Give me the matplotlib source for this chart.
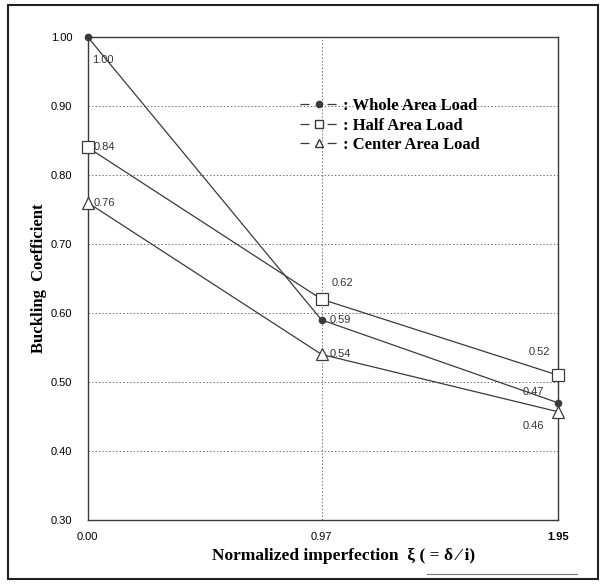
import numpy as np
import matplotlib
matplotlib.use('Agg')
import matplotlib.pyplot as plt
from matplotlib.lines import Line2D

# data
x_vals = [0.00, 0.97, 1.95]
x_ticklabels = ['0.00', '0.97', '1.95']
whole = [1.00, 0.59, 0.47]
half = [0.84, 0.62, 0.51]
center = [0.76, 0.54, 0.457]
whole_lbl = ['1.00', '0.59', '0.47']
half_lbl = ['0.84', '0.62', '0.52']
center_lbl = ['0.76', '0.54', '0.46']
y_ticks = [0.30, 0.40, 0.50, 0.60, 0.70, 0.80, 0.90, 1.00]
series_names = [': Whole Area Load', ': Half Area Load', ': Center Area Load']

serif = 'Liberation Serif'
sans = 'Liberation Sans'
lc = '#3a3a3a'
plt.rcParams['lines.scale_dashes'] = False

fig = plt.figure(figsize=(6.01, 5.84), dpi=100, facecolor='white')
ax = fig.add_axes([0.146, 0.1096, 0.782, 0.827])

ax.plot(x_vals, whole, '-', color=lc, lw=0.9, marker='o', ms=4.5,
        mfc=lc, mec=lc, clip_on=False, zorder=3)
ax.plot(x_vals, half, '-', color=lc, lw=0.9, marker='s', ms=8,
        mfc='white', mec=lc, mew=0.9, clip_on=False, zorder=3)
ax.plot(x_vals, center, '-', color=lc, lw=0.9, marker='^', ms=8,
        mfc='white', mec=lc, mew=0.9, clip_on=False, zorder=3)

ax.set_xlim(0, 1.95)
ax.set_ylim(0.30, 1.00)
ax.set_xticks(x_vals)
ax.set_xticklabels(x_ticklabels, fontfamily=sans, fontsize=8)
ax.set_yticks(y_ticks)
ax.set_yticklabels(['%.2f' % v for v in y_ticks], fontfamily=sans, fontsize=8)
ax.tick_params(axis='y', length=0, pad=11)
ax.tick_params(axis='x', length=0, pad=9)
ax.get_xticklabels()[2].set_fontweight('bold')

ax.grid(True, linestyle=(0, (1, 1.5)), color='#555555', lw=0.6)
for s in ax.spines.values():
    s.set_color(lc)
    s.set_linewidth(1.0)

# value labels: offsets in pixels from the point, and alignment
off = dict(textcoords='offset pixels', fontsize=8, fontfamily=sans,
           color='#333333', va='center')
w_off = [(4, -23, 'left'), (8, 0, 'left'), (-14, 11, 'right')]
h_off = [(6, 0, 'left'), (10, 16, 'left'), (-8, 23, 'right')]
c_off = [(6, 0, 'left'), (8, 0, 'left'), (-14, -14, 'right')]
for vals, lbls, offs in [(whole, whole_lbl, w_off), (half, half_lbl, h_off),
                         (center, center_lbl, c_off)]:
    for xv, yv, t, (dx, dy, ha) in zip(x_vals, vals, lbls, offs):
        ax.annotate(t, (xv, yv), xytext=(dx, dy), ha=ha, **off)

dash = (0, (6.5, 13))
handles = [
    Line2D([], [], color=lc, lw=0.9, ls=dash, marker='o', ms=4.5, mfc=lc, mec=lc),
    Line2D([], [], color=lc, lw=0.9, ls=dash, marker='s', ms=6, mfc='white', mec=lc),
    Line2D([], [], color=lc, lw=0.9, ls=dash, marker='^', ms=6, mfc='white', mec=lc),
]
ax.legend(handles, series_names, loc='upper left', bbox_to_anchor=(0.42, 0.905),
          frameon=False, handlelength=2.26, handletextpad=0.3, labelspacing=0.22,
          prop={'family': serif, 'weight': 'bold', 'size': 12})

ax.set_ylabel('Buckling  Coefficient', fontfamily=serif, fontweight='bold',
              fontsize=12, labelpad=3)
fig.text(0.571, 0.048, 'Normalized imperfection  \u03be ( = \u03b4 \u2215 i)',
         ha='center', va='center', fontfamily=serif, fontweight='bold', fontsize=12.5)

# outer frame around the whole figure and a short rule under the label
fig.add_artist(plt.Rectangle((0.013, 0.008), 0.982, 0.983, transform=fig.transFigure,
                             fill=False, ec='#222222', lw=1.5))
fig.add_artist(Line2D([0.71, 0.96], [0.017, 0.017], transform=fig.transFigure,
                      color='#777777', lw=0.8))

fig.savefig('out.png', dpi=100)
